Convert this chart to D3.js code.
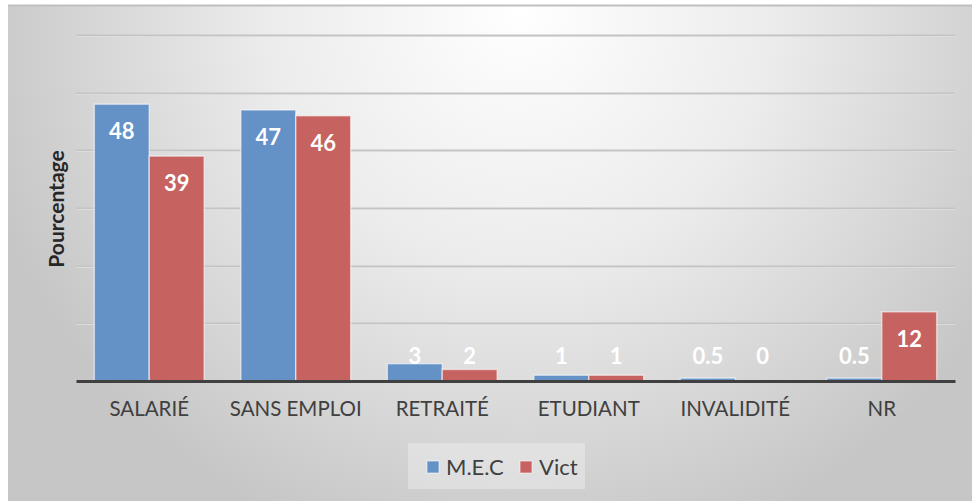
<!DOCTYPE html>
<html><head><meta charset="utf-8">
<script src="https://cdn.jsdelivr.net/npm/d3@7/dist/d3.min.js"></script>
<style>html,body{margin:0;padding:0;background:#fff;}svg{display:block;}</style>
</head><body>
<svg id="chart" width="972" height="501"></svg>
<script>
const categories = ["SALARIÉ", "SANS EMPLOI", "RETRAITÉ", "ETUDIANT", "INVALIDITÉ", "NR"];
const seriesNames = ["M.E.C", "Vict"];
const mecValues = [48, 47, 3, 1, 0.5, 0.5];
const victValues = [39, 46, 2, 1, 0, 12];
const yTicks = [0, 10, 20, 30, 40, 50, 60];
const yTitle = "Pourcentage";
const colors = ["#6491c6", "#c6625f"];

const svg = d3.select("#chart");
const W = 972, H = 501;
const font = "Lato, 'Open Sans', sans-serif";

// background
const defs = svg.append("defs");
const rg = defs.append("radialGradient").attr("id", "bg")
  .attr("gradientUnits", "userSpaceOnUse")
  .attr("cx", 520).attr("cy", 10).attr("r", 560);
rg.append("stop").attr("offset", 0).attr("stop-color", "#ffffff");
rg.append("stop").attr("offset", 0.45).attr("stop-color", "#ececec");
rg.append("stop").attr("offset", 1).attr("stop-color", "#c6c6c6");

svg.append("rect").attr("x", 8).attr("y", 5).attr("width", W - 8).attr("height", H - 5).attr("fill", "url(#bg)");
svg.append("line").attr("x1", 8).attr("x2", W).attr("y1", 5.5).attr("y2", 5.5).attr("stroke", "#bfbfbf").attr("stroke-width", 2);

const plot = {left: 76, right: 955, top: 35, bottom: 381};
const x0 = d3.scaleBand().domain(categories).range([plot.left, plot.right]).paddingInner(0.25).paddingOuter(0.125);
const x1 = d3.scaleBand().domain(seriesNames).range([0, x0.bandwidth()]);
const y = d3.scaleLinear().domain([0, 60]).range([plot.bottom, plot.top]);

// gridlines
const grid = svg.append("g");
yTicks.filter(t => t > 0).forEach(t => {
  grid.append("line").attr("x1", plot.left).attr("x2", plot.right)
    .attr("y1", Math.round(y(t)) + 1.5).attr("y2", Math.round(y(t)) + 1.5)
    .attr("stroke", "#f4f4f4").attr("stroke-width", 1);
  grid.append("line").attr("x1", plot.left).attr("x2", plot.right)
    .attr("y1", Math.round(y(t)) + 0.5).attr("y2", Math.round(y(t)) + 0.5)
    .attr("stroke", "#c4c4c4").attr("stroke-width", 2);
});

// bars
const rows = categories.map((c, i) => ({cat: c, vals: [mecValues[i], victValues[i]]}));
const g = svg.append("g");
rows.forEach(r => {
  r.vals.forEach((v, j) => {
    const bx = x0(r.cat) + x1(seriesNames[j]);
    if (v > 0) {
      g.append("rect").attr("x", bx).attr("y", y(v)).attr("width", x1.bandwidth()).attr("height", y(0) - y(v))
        .attr("fill", colors[j]).attr("stroke", "rgba(255,255,255,0.55)").attr("stroke-width", 1.5);
    }
  });
});

// axis baseline
const xAxis = d3.axisBottom(x0).tickSize(0).tickPadding(20);
const ax = svg.append("g").attr("transform", `translate(0,${plot.bottom})`).call(xAxis);
ax.select(".domain").attr("stroke", "#404040").attr("stroke-width", 3);
ax.selectAll("text").attr("font-family", font).attr("font-size", 20.5).attr("fill", "#404040");

// labels
rows.forEach(r => {
  r.vals.forEach((v, j) => {
    const cx = x0(r.cat) + x1(seriesNames[j]) + x1.bandwidth() / 2;
    const cy = Math.min(y(v) + 27, 356);
    svg.append("text").attr("x", cx).attr("y", cy).attr("dy", "0.36em")
      .attr("text-anchor", "middle").attr("font-family", font).attr("font-weight", "bold")
      .attr("font-size", 22).attr("fill", "#ffffff").text(v);
  });
});

// y title
svg.append("text").attr("transform", "translate(64,209) rotate(-90)")
  .attr("text-anchor", "middle").attr("font-family", font).attr("font-weight", "bold")
  .attr("font-size", 21).attr("fill", "#262626").text(yTitle);

// legend
const lg = svg.append("g");
lg.append("rect").attr("x", 408).attr("y", 443).attr("width", 177).attr("height", 46).attr("fill", "rgba(255,255,255,0.3)");
const legendItems = [{name: seriesNames[0], x: 427, c: colors[0]}, {name: seriesNames[1], x: 520, c: colors[1]}];
legendItems.forEach(it => {
  lg.append("rect").attr("x", it.x).attr("y", 461).attr("width", 12).attr("height", 12).attr("fill", it.c)
    .attr("stroke", "rgba(255,255,255,0.6)").attr("stroke-width", 1);
  lg.append("text").attr("x", it.x + 19).attr("y", 467).attr("dy", "0.36em")
    .attr("font-family", font).attr("font-size", 22).attr("fill", "#404040").text(it.name);
});
</script>
</body></html>
